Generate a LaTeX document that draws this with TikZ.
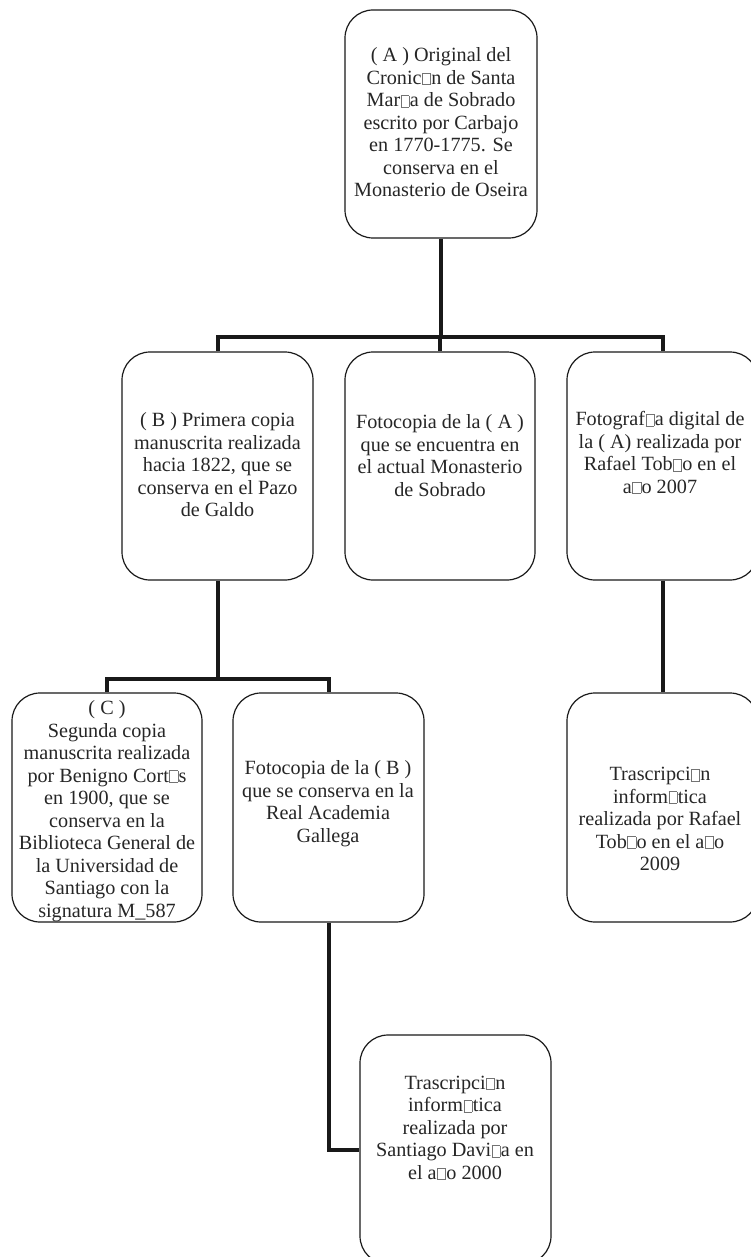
\documentclass[tikz,border=0pt]{standalone}
\usepackage{fontspec}
\setmainfont{Liberation Serif}
\usepackage{xcolor}
\newcommand{\mg}{{\kern0.5pt\setlength{\fboxsep}{0pt}\setlength{\fboxrule}{0.5pt}\textcolor{black!55}{\fbox{\rule{0pt}{0.55em}\rule{0.38em}{0pt}}}\kern0.5pt}}
\tikzset{
  box/.style={draw=black!90, line width=1.2pt, rounded corners=28pt, minimum width=191pt, minimum height=228pt, inner sep=0pt},
  txt/.style={align=center, inner sep=0pt, text=black!85, font=\fontsize{20.2}{22.5}\selectfont},
  conn/.style={draw=black!90, line width=4pt, line join=miter}
}
\begin{document}
\begin{tikzpicture}[x=1pt,y=-1pt]
\useasboundingbox (0,0) rectangle (751,1257);
% boxes
\node[box, minimum width=192pt] (A) at (441,124) {};
\node[box] (B) at (217.5,466) {};
\node[box, minimum width=190pt] (M) at (440,466) {};
\node[box] (R) at (662.5,466) {};
\node[box, minimum width=190pt, minimum height=229pt] (C) at (107,807.5) {};
\node[box, minimum height=229pt] (FB) at (328.5,807.5) {};
\node[box, minimum height=229pt] (RL) at (662.5,807.5) {};
\node[box, minimum height=229pt] (D) at (455.5,1149.5) {};
% texts
\node[txt] (At) at (441,122.5) {( A ) Original del\\Cronic\mg n de Santa\\Mar\mg a de Sobrado\\escrito por Carbajo\\en 1770-1775. Se\\conserva en el\\Monasterio de Oseira};
\node[txt] (Bt) at (217.5,465) {( B ) Primera copia\\manuscrita realizada\\hacia 1822, que se\\conserva en el Pazo\\de Galdo};
\node[txt] (Mt) at (440,455.5) {Fotocopia de la ( A )\\que se encuentra en\\el actual Monasterio\\de Sobrado};
\node[txt] (Rt) at (660,452.5) {Fotograf\mg a digital de\\la ( A) realizada por\\Rafael Tob\mg o en el\\a\mg o 2007};
\node[txt] (Ct) at (107,811) {( C )\\Segunda copia\\manuscrita realizada\\por Benigno Cort\mg s\\en 1900, que se\\conserva en la\\Biblioteca General de\\la Universidad de\\Santiago con la\\signatura M\_587};
\node[txt] (FBt) at (328,803.5) {Fotocopia de la ( B )\\que se conserva en la\\Real Academia\\Gallega};
\node[txt] (RLt) at (660,819) {Trascripci\mg n\\inform\mg tica\\realizada por Rafael\\Tob\mg o en el a\mg o\\2009};
\node[txt] (Dt) at (455,1128) {Trascripci\mg n\\inform\mg tica\\realizada por\\Santiago Davi\mg a en\\el a\mg o 2000};
% junctions
\coordinate (j1) at (441,337);
\coordinate (j2) at (217.5,679);
% connectors
\draw[conn] (A.south) -- (A.south |- j1);
\draw[conn] (B.north) -- (B.north |- j1) -- (R.north |- j1) -- (R.north);
\draw[conn] (M.north) -- (M.north |- j1);
\draw[conn] (B.south) -- (B.south |- j2);
\draw[conn] (C.north) -- (C.north |- j2) -- (FB.north |- j2) -- (FB.north);
\draw[conn] (FB.south) |- (D.west);
\draw[conn] (R.south) -- (RL.north);
\end{tikzpicture}
\end{document}
